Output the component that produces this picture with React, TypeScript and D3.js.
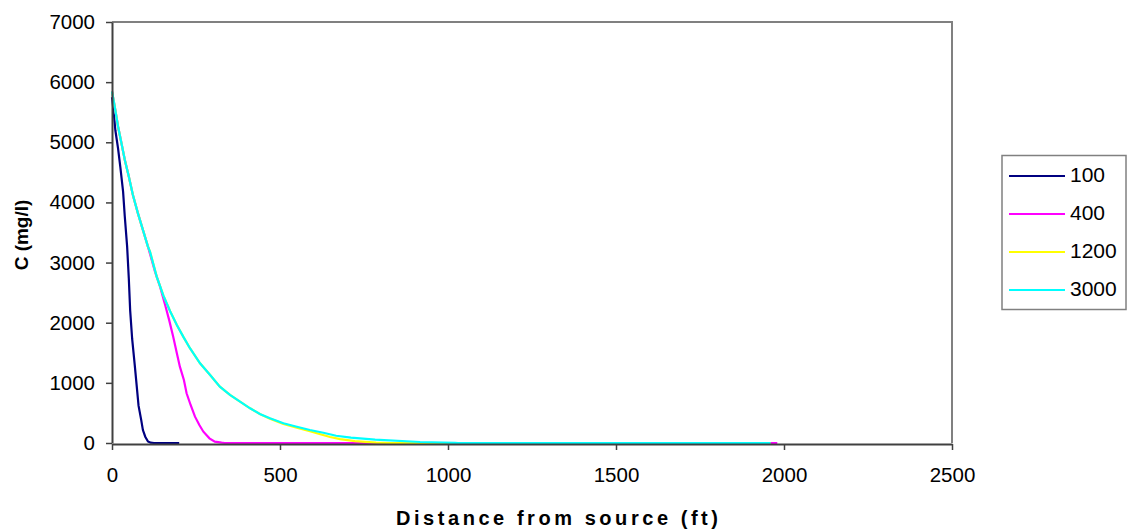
import React, { useEffect, useRef } from "react";
import * as d3 from "d3";

// concentration profiles, C (mg/l) vs distance (ft), one series per time
const seriesNames = ["100", "400", "1200", "3000"];
const seriesColors = ["#000080", "#ff00ff", "#ffff00", "#00ffff"];

const dist100 = [0, 5, 10, 18, 25, 33, 38, 45, 50, 54, 60, 68, 74, 79, 87, 92, 99, 107, 115, 125, 200];
const conc100 = [5750, 5500, 5200, 4900, 4580, 4180, 3770, 3270, 2740, 2210, 1730, 1280, 920, 620, 380, 215, 105, 25, 5, 0, 0];

const dist400 = [0, 8, 18, 28, 38, 50, 62, 77, 92, 107, 128, 143, 158, 170, 182, 193, 202, 214, 222, 234, 247, 260, 272, 290, 306, 326, 335, 1980];
const conc400 = [5845, 5596, 5263, 4987, 4709, 4431, 4126, 3822, 3544, 3266, 2850, 2600, 2300, 2047, 1769, 1492, 1270, 1048, 827, 632, 438, 300, 188, 78, 22, 5, 0, 0];

const dist1200 = [0, 8, 18, 28, 38, 50, 62, 77, 92, 107, 113, 133, 153, 173, 193, 212, 232, 262, 292, 321, 351, 381, 411, 440, 470, 510, 550, 589, 620, 649, 679, 723, 786, 830, 1960];
const conc1200 = [5845, 5596, 5263, 4987, 4709, 4431, 4126, 3822, 3544, 3266, 3183, 2767, 2450, 2190, 1963, 1769, 1576, 1326, 1131, 937, 799, 687, 577, 483, 405, 318, 255, 195, 145, 100, 65, 30, 6, 0, 0];

const dist3000 = [0, 8, 18, 28, 38, 50, 62, 77, 92, 107, 113, 133, 153, 173, 193, 212, 232, 262, 292, 321, 351, 381, 411, 440, 470, 510, 550, 589, 629, 667, 711, 783, 917, 1021, 1030, 1960];
const conc3000 = [5845, 5596, 5263, 4987, 4709, 4431, 4126, 3822, 3544, 3266, 3183, 2767, 2450, 2190, 1963, 1769, 1576, 1326, 1131, 937, 799, 687, 577, 483, 411, 328, 271, 216, 171, 121, 88, 55, 17, 3, 0, 0];

const xTicks = [0, 500, 1000, 1500, 2000, 2500];
const yTicks = [0, 1000, 2000, 3000, 4000, 5000, 6000, 7000];

const allDist = [dist100, dist400, dist1200, dist3000];
const allConc = [conc100, conc400, conc1200, conc3000];

export default function App() {
  const ref = useRef<SVGSVGElement>(null);

  useEffect(() => {
    const svg = d3.select(ref.current);
    svg.selectAll("*").remove();

    const font = "'Liberation Sans', Arial, sans-serif";
    const x = d3.scaleLinear().domain([0, 2500]).range([112, 952]);
    const y = d3.scaleLinear().domain([0, 7000]).range([443, 22]);

    // plot frame (top and right)
    svg.append("path")
      .attr("d", `M${x(0)},${y(7000)}H${x(2500)}V${y(0)}`)
      .attr("fill", "none")
      .attr("stroke", "#808080")
      .attr("stroke-width", 2);

    // lines
    const line = d3.line<[number, number]>()
      .x((d) => x(d[0]))
      .y((d) => y(d[1]));

    seriesNames.forEach((name, i) => {
      const pts: [number, number][] = allDist[i].map((d, j) => [d, allConc[i][j]]);
      svg.append("path")
        .datum(pts)
        .attr("d", line)
        .attr("fill", "none")
        .attr("stroke", seriesColors[i])
        .attr("stroke-width", 2.2);
    });

    // axes
    const fmt = d3.format("d");
    const yAxis = svg.append("g")
      .attr("transform", `translate(${x(0)},0)`)
      .call(d3.axisLeft(y).tickValues(yTicks).tickFormat(fmt).tickSize(6).tickPadding(11).tickSizeOuter(0));
    const xAxis = svg.append("g")
      .attr("transform", `translate(0,${y(0) + 1})`)
      .call(d3.axisBottom(x).tickValues(xTicks).tickFormat(fmt).tickSize(6).tickPadding(17).tickSizeOuter(0));

    [yAxis, xAxis].forEach((g) => {
      g.attr("font-size", null).attr("font-family", null);
      g.select(".domain").attr("stroke", "#404040").attr("stroke-width", 2);
      g.selectAll(".tick line").attr("stroke", "#404040").attr("stroke-width", 1.5);
      g.selectAll(".tick text")
        .attr("fill", "#000")
        .style("font-family", font)
        .style("font-size", "20.5px");
    });

    // axis titles
    svg.append("text")
      .attr("x", 557)
      .attr("y", 520)
      .attr("text-anchor", "middle")
      .attr("dominant-baseline", "middle")
      .attr("textLength", 322)
      .attr("lengthAdjust", "spacing")
      .style("font-family", font)
      .style("font-weight", "bold")
      .style("font-size", "20px")
      .text("Distance from source (ft)");

    svg.append("text")
      .attr("transform", "translate(23,235) rotate(-90)")
      .attr("text-anchor", "middle")
      .attr("dominant-baseline", "middle")
      .style("font-family", font)
      .style("font-weight", "bold")
      .style("font-size", "19px")
      .text("C (mg/l)");

    // legend
    const legend = svg.append("g");
    legend.append("rect")
      .attr("x", 1002)
      .attr("y", 155.5)
      .attr("width", 124)
      .attr("height", 154)
      .attr("fill", "#fff")
      .attr("stroke", "#808080")
      .attr("stroke-width", 1.5);
    const rowY = d3.scalePoint<string>().domain(seriesNames).range([176, 290]);
    seriesNames.forEach((name, i) => {
      legend.append("line")
        .attr("x1", 1009)
        .attr("x2", 1065)
        .attr("y1", rowY(name)!)
        .attr("y2", rowY(name)!)
        .attr("stroke", seriesColors[i])
        .attr("stroke-width", 2);
      legend.append("text")
        .attr("x", 1070)
        .attr("y", rowY(name)!)
        .attr("dominant-baseline", "middle")
        .style("font-family", font)
        .style("font-size", "21px")
        .text(name);
    });
  }, []);

  return (
    <svg
      ref={ref}
      width={1132}
      height={529}
      style={{ position: "absolute", left: 0, top: 0, background: "#fff" }}
    />
  );
}
